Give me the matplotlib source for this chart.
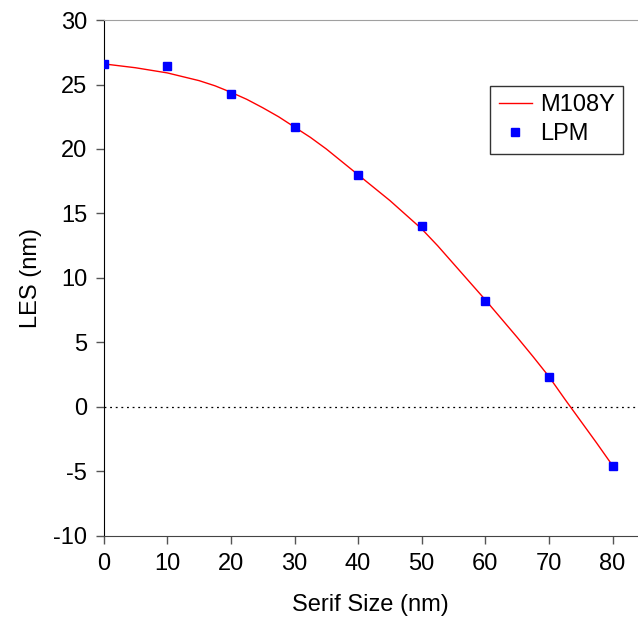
import matplotlib
matplotlib.use("Agg")
import matplotlib.pyplot as plt

# curva do modelo M108Y
serif_curva = [0, 2.5, 5, 7.5, 10, 12.5, 15, 17.5, 20, 22.5, 25, 27.5, 30,
               32.5, 35, 37.5, 40, 42.5, 45, 47.5, 50, 52.5, 55, 57.5, 60,
               62.5, 65, 67.5, 70, 72.5, 75, 77.5, 80]
les_curva = [26.6, 26.45, 26.3, 26.1, 25.9, 25.6, 25.3, 24.9, 24.4, 23.85,
             23.2, 22.5, 21.7, 20.9, 20.0, 19.0, 18.0, 17.0, 16.0, 14.9,
             13.8, 12.5, 11.1, 9.7, 8.3, 6.85, 5.4, 3.9, 2.35, 0.6, -1.1,
             -2.8, -4.55]

# pontos LPM
serif_lpm = [0, 10, 20, 30, 40, 50, 60, 70, 80]
les_lpm = [26.6, 26.4, 24.3, 21.7, 18.0, 14.0, 8.2, 2.35, -4.55]

xticks = [0, 10, 20, 30, 40, 50, 60, 70, 80]
yticks = [-10, -5, 0, 5, 10, 15, 20, 25, 30]

plt.rcParams["font.family"] = ["Liberation Sans", "DejaVu Sans"]
plt.rcParams["font.size"] = 17
plt.rcParams["axes.unicode_minus"] = False

fig = plt.figure(figsize=(6.38, 6.26), dpi=100)
ax = fig.add_axes([0.1625, 0.144, 0.8375, 0.824])

ax.axhline(0, color="black", lw=0.9, ls=(0, (1.5, 3)), zorder=1)
ax.plot(serif_curva, les_curva, color="#ff0000", lw=1.0, label="M108Y", zorder=2)
ax.plot(serif_lpm, les_lpm, "s", color="#0000ff", markersize=5.5, lw=0,
        label="LPM", zorder=3)

ax.set_xlim(0, 84)
ax.set_ylim(-10, 30)
ax.set_xticks(xticks)
ax.set_yticks(yticks)
ax.tick_params(direction="out", length=6, width=1, color="#555555", pad=6)

ax.spines["right"].set_visible(False)
ax.spines["top"].set_color("#a0a0a0")
ax.spines["left"].set_color("black")
ax.spines["bottom"].set_color("#444444")

ax.set_xlabel("Serif Size (nm)", labelpad=14)
ax.set_ylabel("LES (nm)", labelpad=8)

leg = ax.legend(loc="upper right", bbox_to_anchor=(0.972, 0.872),
                frameon=True, fancybox=False, edgecolor="#333333",
                framealpha=1, handlelength=1.4, handletextpad=0.35,
                borderpad=0.35, labelspacing=0.3, borderaxespad=0)
leg.get_frame().set_linewidth(1.0)

fig.savefig("out.png", dpi=100)
